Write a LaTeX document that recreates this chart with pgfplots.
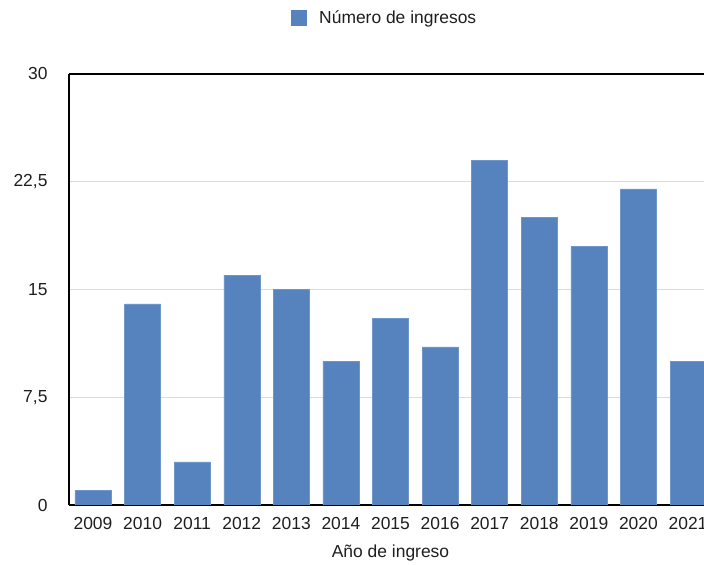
\documentclass[border=0pt]{standalone}
\usepackage{pgfplots}
\pgfplotsset{compat=1.18}
\usepackage{fontspec}
\setmainfont{Liberation Sans}

\definecolor{barblue}{RGB}{86,131,190}
\definecolor{gridgray}{RGB}{218,218,218}
\definecolor{txt}{RGB}{30,30,30}

\pgfplotstableread{
idx anio valor
0  2009 1
1  2010 14
2  2011 3
3  2012 16
4  2013 15
5  2014 10
6  2015 13
7  2016 11
8  2017 24
9  2018 20
10 2019 18
11 2020 22
12 2021 10
}\ingresos

\newcommand{\lblfont}{\fontsize{17.5}{20}\selectfont}

\begin{document}
\begin{tikzpicture}[font=\lblfont, text=txt]
\useasboundingbox (0,0) rectangle (704bp,565bp);
\clip (0,0) rectangle (704bp,565bp);
\begin{axis}[
  at={(69bp,60bp)}, anchor=south west,
  scale only axis,
  width=643bp, height=431bp,
  xmin=-0.484, xmax=12.484,
  ymin=0, ymax=30,
  axis y line*=left,
  axis x line=box,
  axis line style={black, line width=1.3pt},
  ytick={0,7.5,15,22.5,30},
  yticklabels={0,{7,5},15,{22,5},30},
  xtick={0,...,12},
  xticklabels={2009,2010,2011,2012,2013,2014,2015,2016,2017,2018,2019,2020,2021},
  major tick length=0pt,
  ymajorgrids,
  grid style={gridgray, line width=0.8pt},
  /pgf/number format/assume math mode=true,
  yticklabel style={anchor=east, xshift=-18bp, font=\lblfont},
  xticklabel style={anchor=north, yshift=-9bp, font=\lblfont},
  xlabel={Año de ingreso},
  xlabel style={anchor=center, at={(0.5,0)}, yshift=-48bp, font=\lblfont},
  legend style={draw=none, fill=none, at={(0.3453,1.130)}, anchor=west,
    inner sep=0pt, font=\lblfont},
  legend image code/.code={
    \fill[barblue, draw=none] (0bp,-8bp) rectangle (16bp,8bp);
    \path[draw=none, fill=none] (0bp,0bp) rectangle (26bp,0.1bp);},
  legend cell align=left,
]
\addplot[ybar, bar width=0.726, fill=barblue, draw=barblue!85!white, line width=0.4pt]
  table[x=idx, y=valor] {\ingresos};
\addlegendentry{Número de ingresos}
\end{axis}
\end{tikzpicture}
\end{document}
